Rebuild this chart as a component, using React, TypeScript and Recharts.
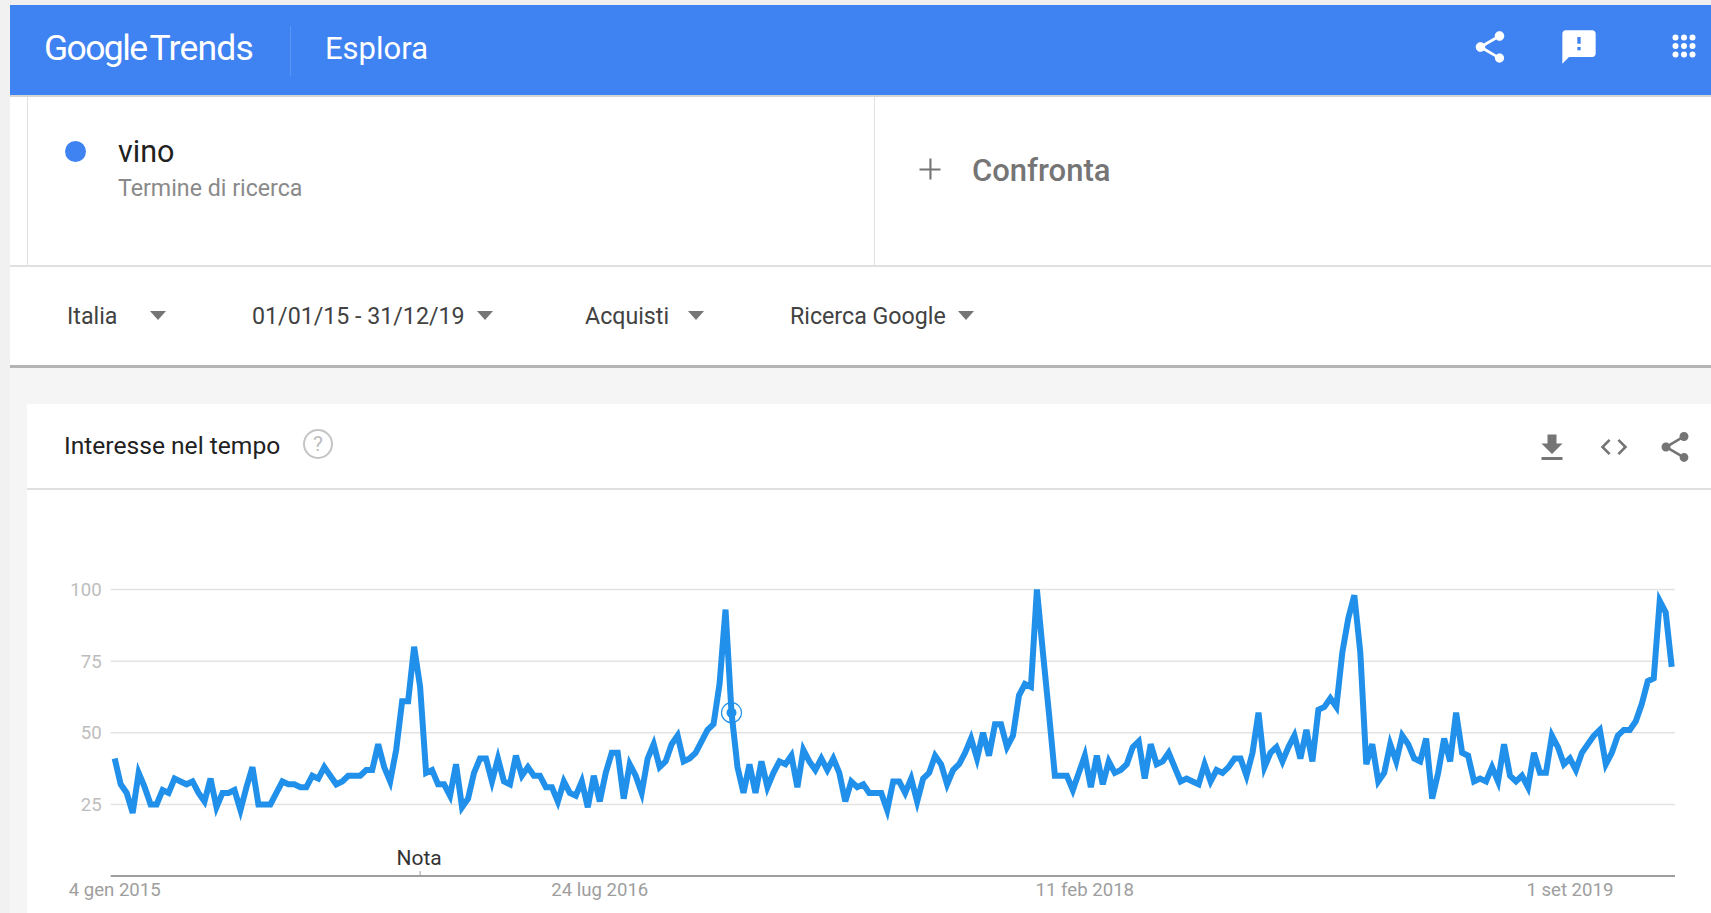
import {
  CartesianGrid,
  Line,
  LineChart,
  ReferenceDot,
  XAxis,
  YAxis,
} from "recharts";

// weekly search interest, 4 gen 2015 - 29 dic 2019
const interest = [
  41, 32, 29, 22, 36, 31, 25, 25, 30, 29, 34, 33, 32, 33, 29, 26, 34, 24, 29, 29,
  30, 23, 31, 38, 25, 25, 25, 29, 33, 32, 32, 31, 31, 35, 34, 38, 35, 32, 33, 35,
  35, 35, 37, 37, 46, 38, 33, 44, 61, 61, 80, 66, 36, 37, 32, 32, 28, 39, 24, 27,
  36, 41, 41, 33, 41, 33, 32, 42, 35, 38, 35, 35, 31, 31, 26, 33, 29, 28, 33, 24,
  35, 26, 36, 43, 43, 27, 39, 35, 29, 41, 46, 38, 40, 46, 49, 40, 41, 43, 47, 51,
  53, 67, 93, 57, 38, 29, 39, 29, 40, 31, 36, 40, 39, 42, 31, 44, 40, 37, 41, 37,
  41, 36, 26, 33, 31, 32, 29, 29, 29, 23, 33, 33, 29, 34, 26, 34, 36, 42, 39, 32,
  37, 39, 43, 48, 41, 50, 42, 53, 53, 45, 49, 63, 67, 66, 100, 78, 57, 35, 35, 35,
  30, 36, 42, 31, 42, 32, 40, 36, 37, 39, 45, 47, 34, 46, 39, 40, 43, 38, 33, 34,
  33, 32, 39, 33, 37, 36, 38, 41, 41, 35, 43, 57, 38, 43, 45, 40, 45, 49, 41, 51,
  40, 58, 59, 62, 59, 78, 90, 98, 78, 39, 46, 33, 36, 46, 40, 49, 46, 41, 40, 48,
  27, 36, 48, 40, 57, 43, 42, 33, 34, 33, 38, 33, 46, 35, 33, 35, 31, 43, 36, 36,
  49, 45, 39, 41, 37, 43, 46, 49, 51, 39, 43, 49, 51, 51, 54, 60, 68, 69, 96, 92,
  73,
];

const tickWeeks = [0, 81, 162, 243];
const tickLabels = ["4 gen 2015", "24 lug 2016", "11 feb 2018", "1 set 2019"];
const yTicks = [25, 50, 75, 100];
const noteWeek = 51;
const hoverWeek = 103;

const filters = [
  { label: "Italia", x: 67, arrow: 158 },
  { label: "01/01/15 - 31/12/19", x: 252, arrow: 485 },
  { label: "Acquisti", x: 585, arrow: 696 },
  { label: "Ricerca Google", x: 790, arrow: 966 },
];

const chartData = interest.map((value, week) => ({ week, value }));

const colors = {
  header: "#3f82f2",
  line: "#2090ea",
  grid: "#e3e3e3",
  axis: "#9e9e9e",
  yLabel: "#bdbdbd",
  xLabel: "#9e9e9e",
  dark: "#212121",
  gray: "#757575",
};

const font = "Roboto, sans-serif";

const sharePath =
  "M18 16.08c-.76 0-1.44.3-1.96.77L8.91 12.7c.05-.23.09-.46.09-.7s-.04-.47-.09-.7l7.05-4.11c.54.5 1.25.81 2.04.81 1.66 0 3-1.34 3-3s-1.34-3-3-3-3 1.34-3 3c0 .24.04.47.09.7L8.04 9.81C7.5 9.31 6.79 9 6 9c-1.66 0-3 1.34-3 3s1.34 3 3 3c.79 0 1.5-.31 2.04-.81l7.12 4.16c-.05.21-.08.43-.08.65 0 1.61 1.31 2.92 2.92 2.92 1.61 0 2.92-1.31 2.92-2.92s-1.31-2.92-2.92-2.92z";

function Label({
  x,
  y,
  size,
  color,
  weight = 400,
  children,
}: {
  x: number;
  y: number;
  size: number;
  color: string;
  weight?: number;
  children: React.ReactNode;
}) {
  return (
    <div
      style={{
        position: "absolute",
        left: x,
        top: y - size,
        height: size * 2,
        lineHeight: `${size * 2}px`,
        fontSize: size,
        fontWeight: weight,
        color,
        whiteSpace: "nowrap",
      }}
    >
      {children}
    </div>
  );
}

function Icon({
  cx,
  cy,
  size,
  fill,
  path,
}: {
  cx: number;
  cy: number;
  size: number;
  fill: string;
  path: string;
}) {
  return (
    <svg
      viewBox="0 0 24 24"
      width={size}
      height={size}
      style={{ position: "absolute", left: cx - size / 2, top: cy - size / 2 }}
    >
      <path d={path} fill={fill} />
    </svg>
  );
}

function AppsIcon({ cx, cy }: { cx: number; cy: number }) {
  const steps = [-8.5, 0, 8.5];
  return (
    <svg width={28} height={28} viewBox="-14 -14 28 28" style={{ position: "absolute", left: cx - 14, top: cy - 14 }}>
      {steps.map((dy) =>
        steps.map((dx) => <circle key={`${dx}-${dy}`} cx={dx} cy={dy} r={3} fill="#fff" />),
      )}
    </svg>
  );
}

function Box({ x, y, w, h, bg }: { x: number; y: number; w: number; h: number; bg: string }) {
  return <div style={{ position: "absolute", left: x, top: y, width: w, height: h, background: bg }} />;
}

function NoteMark({ cx, cy }: { cx?: number; cy?: number }) {
  return (
    <g>
      <line x1={cx} x2={cx} y1={(cy ?? 0) - 5} y2={cy} stroke={colors.axis} strokeWidth={1} />
      <text x={(cx ?? 0) - 1} y={(cy ?? 0) - 11} textAnchor="middle" fontSize={21} fill="#333" fontFamily={font}>
        Nota
      </text>
    </g>
  );
}

function HoverMark({ cx, cy }: { cx?: number; cy?: number }) {
  return (
    <g>
      <circle cx={cx} cy={cy} r={10} fill="none" stroke={colors.line} strokeWidth={1.2} />
      <circle cx={cx} cy={cy} r={5} fill={colors.line} />
    </g>
  );
}

function TrendChart() {
  return (
    <LineChart
      width={1711}
      height={353}
      data={chartData}
      margin={{ top: 29.5, right: 36, bottom: 0, left: 0 }}
      style={{ position: "absolute", left: 0, top: 560 }}
    >
      <CartesianGrid horizontal vertical={false} stroke={colors.grid} strokeWidth={1.5} />
      <XAxis
        dataKey="week"
        type="number"
        domain={[0, 260]}
        ticks={tickWeeks}
        interval={0}
        padding={{ left: 4, right: 3.3 }}
        height={37}
        tickLine={false}
        tickMargin={1}
        tickFormatter={(week: number) => tickLabels[tickWeeks.indexOf(week)]}
        tick={{ fill: colors.xLabel, fontSize: 18.6, fontFamily: font }}
        axisLine={{ stroke: colors.axis, strokeWidth: 2 }}
      />
      <YAxis
        type="number"
        domain={[0, 100]}
        ticks={yTicks}
        width={110.7}
        tickLine={false}
        axisLine={false}
        tickMargin={3}
        tick={{ fill: colors.yLabel, fontSize: 18.6, fontFamily: font }}
      />
      <Line
        dataKey="value"
        type="linear"
        stroke={colors.line}
        strokeWidth={6}
        strokeLinejoin="miter"
        dot={false}
        activeDot={false}
        isAnimationActive={false}
      />
      <ReferenceDot x={noteWeek} y={0} r={0} ifOverflow="visible" shape={<NoteMark />} />
      <ReferenceDot x={hoverWeek} y={interest[hoverWeek]} ifOverflow="visible" shape={<HoverMark />} />
    </LineChart>
  );
}

export default function App() {
  return (
    <div
      style={{
        position: "absolute",
        left: 0,
        top: 0,
        width: 1711,
        height: 913,
        overflow: "hidden",
        background: "#ffffff",
        fontFamily: font,
      }}
    >
      {/* page edge and header */}
      <Box x={0} y={0} w={1711} h={5} bg="#efefef" />
      <Box x={0} y={0} w={10} h={913} bg="#f1f1f1" />
      <Box x={10} y={5} w={1701} h={90} bg={colors.header} />
      <Box x={10} y={95} w={1701} h={2} bg="#d5d5d5" />
      <Box x={290} y={26} w={1} h={50} bg="#5a94f5" />
      <Label x={44} y={48} size={35.5} color="#fff">
        <span style={{ letterSpacing: -1.6 }}>Google</span>
        <span style={{ letterSpacing: -0.8, marginLeft: 3 }}>Trends</span>
      </Label>
      <Label x={325} y={49} size={31} color="#fff">
        Esplora
      </Label>
      <Icon cx={1490} cy={47} size={38} fill="#fff" path={sharePath} />
      <Icon
        cx={1579}
        cy={47}
        size={40}
        fill="#fff"
        path="M20 2H4c-1.1 0-1.99.9-1.99 2L2 22l4-4h14c1.1 0 2-.9 2-2V4c0-1.1-.9-2-2-2zm-7 12h-2v-2h2v2zm0-4h-2V6h2v4z"
      />
      <AppsIcon cx={1684} cy={46} />

      {/* search term row */}
      <Box x={27} y={97} w={1} h={168} bg="#e0e0e0" />
      <Box x={874} y={97} w={1} h={168} bg="#e0e0e0" />
      <Box x={10} y={265} w={1701} h={1.5} bg="#e0e0e0" />
      <div
        style={{
          position: "absolute",
          left: 64.5,
          top: 140.5,
          width: 21,
          height: 21,
          borderRadius: "50%",
          background: colors.header,
        }}
      />
      <Label x={118} y={151} size={30.5} color={colors.dark}>
        vino
      </Label>
      <Label x={118} y={188} size={23.2} color="#8a8a8a">
        Termine di ricerca
      </Label>
      <Icon cx={930} cy={169} size={36} fill={colors.gray} path="M19 13h-6v6h-1.4v-6H5v-1.4h6.6V5H13v6.6h6z" />
      <Label x={972} y={171} size={31} color={colors.gray} weight={500}>
        Confronta
      </Label>

      {/* filters */}
      {filters.map((filter) => (
        <div key={filter.label}>
          <Label x={filter.x} y={316} size={23.2} color="#424242">
            {filter.label}
          </Label>
          <svg
            width={16}
            height={9}
            style={{ position: "absolute", left: filter.arrow - 8, top: 311 }}
          >
            <path d="M0 0 L16 0 L8 9 Z" fill={colors.gray} />
          </svg>
        </div>
      ))}
      <Box x={10} y={364.5} w={1701} h={3} bg="#b4b4b4" />
      <Box x={10} y={367.5} w={1701} h={36.5} bg="#f5f5f5" />
      <Box x={10} y={367.5} w={17} h={546} bg="#f5f5f5" />

      {/* card header */}
      <Label x={64} y={446} size={24.6} color={colors.dark}>
        Interesse nel tempo
      </Label>
      <div
        style={{
          position: "absolute",
          left: 303,
          top: 429,
          width: 26,
          height: 26,
          border: "2px solid #c4c4c4",
          borderRadius: "50%",
          color: "#bdbdbd",
          fontSize: 21,
          lineHeight: "26px",
          textAlign: "center",
        }}
      >
        ?
      </div>
      <Icon cx={1552} cy={448} size={36} fill={colors.gray} path="M19 9h-4V3H9v6H5l7 7 7-7zM5 18v2h14v-2H5z" />
      <Icon
        cx={1614}
        cy={447}
        size={32}
        fill={colors.gray}
        path="M9.4 16.6 4.8 12l4.6-4.6L8 6l-6 6 6 6 1.4-1.4zm5.2 0 4.6-4.6-4.6-4.6L16 6l6 6-6 6-1.4-1.4z"
      />
      <Icon cx={1675} cy={447} size={36} fill={colors.gray} path={sharePath} />
      <Box x={27} y={488} w={1684} h={1.5} bg="#e0e0e0" />

      <TrendChart />
    </div>
  );
}
